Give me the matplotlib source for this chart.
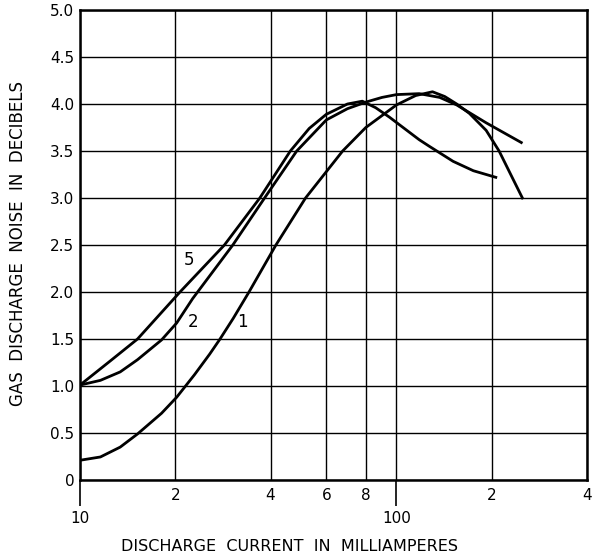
import matplotlib
matplotlib.use("Agg")
import matplotlib.pyplot as plt
from matplotlib.ticker import FixedLocator, FixedFormatter

# curve values: current (mA), noise (dB)
curve1_x = [10, 11.6, 13.4, 15.2, 18.1, 20.2, 23, 25.7, 27.7, 30.5, 34.2, 41.6,
            51.6, 67.6, 80, 100, 115, 130, 142, 155, 170, 192, 211, 232, 250]
curve1_y = [0.21, 0.245, 0.35, 0.49, 0.71, 0.88, 1.12, 1.34, 1.5, 1.72, 2.0, 2.5,
            3.0, 3.5, 3.75, 3.99, 4.09, 4.13, 4.08, 4.0, 3.9, 3.72, 3.5, 3.22, 3.0]

curve2_x = [10, 11.6, 13.4, 15.2, 18.1, 20.2, 22.7, 30.4, 38.3, 48.4, 60, 70,
            80, 90, 100, 118, 137, 155, 192, 248]
curve2_y = [1.01, 1.06, 1.15, 1.28, 1.49, 1.67, 1.93, 2.5, 3.0, 3.5, 3.83, 3.95,
            4.02, 4.07, 4.1, 4.11, 4.07, 3.99, 3.8, 3.59]

curve5_x = [10, 12.5, 15.2, 20.7, 28.6, 37.0, 46.2, 53, 60, 70, 78, 86, 95,
            118, 127, 137, 151, 175, 206]
curve5_y = [1.01, 1.27, 1.5, 2.0, 2.5, 3.0, 3.5, 3.74, 3.89, 4.0, 4.03, 3.96, 3.86,
            3.62, 3.55, 3.48, 3.39, 3.29, 3.22]

curve_labels = ["1", "2", "5"]
label_pos = [(32.7, 1.68), (22.7, 1.68), (22.1, 2.34)]

y_ticks = [0, 0.5, 1.0, 1.5, 2.0, 2.5, 3.0, 3.5, 4.0, 4.5, 5.0]
y_labels = ["0", "0.5", "1.0", "1.5", "2.0", "2.5", "3.0", "3.5", "4.0", "4.5", "5.0"]
x_major = [10, 100]
x_major_labels = ["10", "100"]
x_minor = [20, 40, 60, 80, 200, 400]
x_minor_labels = ["2", "4", "6", "8", "2", "4"]

fig = plt.figure(figsize=(5.96, 5.57), dpi=100)
ax = fig.add_axes([80 / 596, 77 / 557, 507 / 596, 470 / 557])

for xs, ys in [(curve1_x, curve1_y), (curve2_x, curve2_y), (curve5_x, curve5_y)]:
    ax.plot(xs, ys, color="black", lw=2.0, solid_joinstyle="round")

for lab, (lx, ly) in zip(curve_labels, label_pos):
    ax.text(lx, ly, lab, fontsize=12, ha="center", va="center")

ax.set_xscale("log")
ax.set_xlim(10, 400)
ax.set_ylim(0, 5.0)

ax.xaxis.set_major_locator(FixedLocator(x_major))
ax.xaxis.set_major_formatter(FixedFormatter(x_major_labels))
ax.xaxis.set_minor_locator(FixedLocator(x_minor))
ax.xaxis.set_minor_formatter(FixedFormatter(x_minor_labels))
ax.set_yticks(y_ticks)
ax.set_yticklabels(y_labels)

ax.tick_params(axis="x", which="major", length=19, width=1.2, pad=3, labelsize=11)
ax.tick_params(axis="x", which="minor", length=0, pad=6, labelsize=11)
ax.tick_params(axis="y", length=0, pad=4, labelsize=11)

ax.grid(True, which="both", color="black", lw=1.0)
ax.set_axisbelow(True)
for side in ["left", "bottom", "top", "right"]:
    ax.spines[side].set_linewidth(1.8)

ax.set_xlabel("DISCHARGE  CURRENT  IN  MILLIAMPERES", fontsize=11.5)
ax.xaxis.set_label_coords(0.414, -0.125)
ax.set_ylabel("GAS  DISCHARGE  NOISE  IN  DECIBELS", fontsize=12)
ax.yaxis.set_label_coords(-0.105, 0.504)

fig.savefig("out.png", dpi=100)
